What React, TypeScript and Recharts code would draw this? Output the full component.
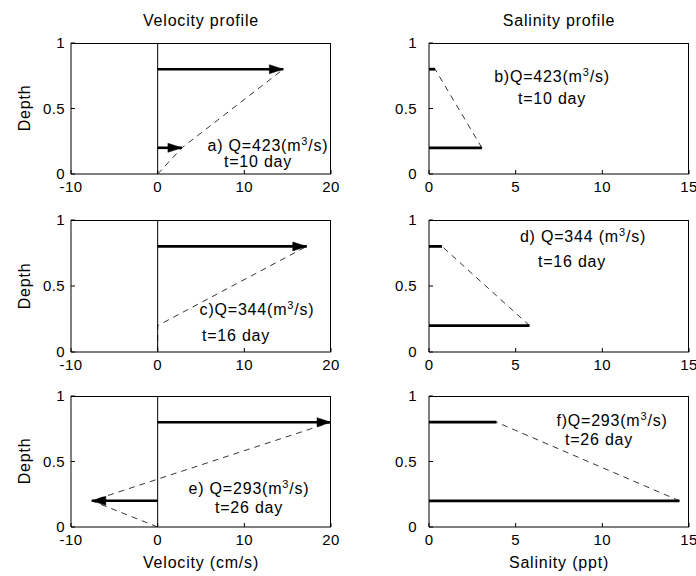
import React from 'react';
import {
  ComposedChart,
  Line,
  XAxis,
  YAxis,
  ReferenceLine,
} from 'recharts';

// layer depths (lower, upper)
const LAYER_DEPTHS = [0.2, 0.8];

// velocity (cm/s) at lower and upper layer
const VEL_A = [2.8, 14.5];
const VEL_C = [0, 17.2];
const VEL_E = [-7.6, 20];

// salinity (ppt) at lower and upper layer
const SAL_B = [3.05, 0.35];
const SAL_D = [5.8, 0.75];
const SAL_F = [14.45, 3.9];

const VEL_TICKS = [-10, 0, 10, 20];
const SAL_TICKS = [0, 5, 10, 15];
const DEPTH_TICKS = [0, 0.5, 1];

const FONT = '"Liberation Sans", Arial, Helvetica, sans-serif';

const ROWS = [
  { top: 0, height: 200, mt: 43, xh: 26 },
  { top: 200, height: 178, mt: 20, xh: 26 },
  { top: 378, height: 198, mt: 18, xh: 49 },
];

const COLS = [
  { left: 0, width: 348, ml: 31, mr: 17, tm: 10, domain: [-10, 20], ticks: VEL_TICKS },
  { left: 348, width: 348, ml: 41, mr: 7, tm: 16, domain: [0, 15], ticks: SAL_TICKS },
];

const arrowDot = (dir: number) => (props: any) => {
  const { cx, cy, index } = props;
  if (index !== 1 || dir === 0 || cx == null) return <g key={`d${index}`} />;
  const L = 14;
  const W = 4.5;
  const pts = `${cx},${cy} ${cx - dir * L},${cy - W} ${cx - dir * L},${cy + W}`;
  return <polygon key={`d${index}`} points={pts} fill="#000" stroke="#000" strokeWidth={0.5} />;
};

const velProfile = (v: number[]) => [
  { x: 0, y: 0 },
  { x: v[0], y: LAYER_DEPTHS[0] },
  { x: v[1], y: LAYER_DEPTHS[1] },
];

const salProfile = (s: number[]) => [
  { x: s[0], y: LAYER_DEPTHS[0] },
  { x: s[1], y: LAYER_DEPTHS[1] },
];

const layerSeg = (val: number, i: number) => [
  { x: 0, y: LAYER_DEPTHS[i] },
  { x: val, y: LAYER_DEPTHS[i] },
];

const tickStyle = { fill: '#000', fontSize: 15, fontFamily: FONT, letterSpacing: 0.4 };

type PanelProps = { row: number; col: number; vel?: number[]; sal?: number[] };

const Panel: React.FC<PanelProps> = ({ row, col, vel, sal }) => {
  const r = ROWS[row];
  const c = COLS[col];
  return (
    <div style={{ position: 'absolute', left: c.left, top: r.top }}>
      <ComposedChart
        width={c.width}
        height={r.height}
        margin={{ top: r.mt, right: c.mr, bottom: 0, left: c.ml }}
      >
        <XAxis
          type="number"
          dataKey="x"
          domain={c.domain}
          ticks={c.ticks}
          allowDataOverflow
          height={r.xh}
          tickSize={-4}
          tickMargin={11}
          stroke="#000"
          tick={tickStyle}
          interval={0}
        />
        <YAxis
          type="number"
          dataKey="y"
          domain={[0, 1]}
          ticks={DEPTH_TICKS}
          allowDataOverflow
          width={40}
          tickSize={-4}
          tickMargin={c.tm}
          stroke="#000"
          tick={tickStyle}
          interval={0}
        />
        {/* box: top and right frame (clipped to plot, so half the width shows) */}
        <ReferenceLine y={1} stroke="#000" strokeWidth={2} ifOverflow="hidden" />
        <ReferenceLine x={c.domain[1]} stroke="#000" strokeWidth={2} ifOverflow="hidden" />
        {vel && <ReferenceLine x={0} stroke="#000" strokeWidth={1} ifOverflow="hidden" />}
        {vel && (
          <Line
            data={velProfile(vel)}
            dataKey="y"
            type="linear"
            stroke="#000"
            strokeWidth={0.8}
            strokeDasharray="6 5"
            dot={false}
            activeDot={false}
            isAnimationActive={false}
          />
        )}
        {vel &&
          vel.map((v, i) => (
            <Line
              key={`v${i}`}
              data={layerSeg(v, i)}
              dataKey="y"
              type="linear"
              stroke="#000"
              strokeWidth={2.6}
              dot={arrowDot(Math.sign(v))}
              activeDot={false}
              isAnimationActive={false}
            />
          ))}
        {sal && (
          <Line
            data={salProfile(sal)}
            dataKey="y"
            type="linear"
            stroke="#000"
            strokeWidth={0.8}
            strokeDasharray="6 5"
            dot={false}
            activeDot={false}
            isAnimationActive={false}
          />
        )}
        {sal &&
          sal.map((s, i) => (
            <Line
              key={`s${i}`}
              data={layerSeg(s, i)}
              dataKey="y"
              type="linear"
              stroke="#000"
              strokeWidth={2.8}
              dot={false}
              activeDot={false}
              isAnimationActive={false}
            />
          ))}
      </ComposedChart>
    </div>
  );
};

const Txt: React.FC<{ x: number; y: number; rotate?: boolean; children: React.ReactNode }> = ({
  x,
  y,
  rotate,
  children,
}) => (
  <div
    style={{
      position: 'absolute',
      left: x,
      top: y,
      transform: `translate(-50%, -50%)${rotate ? ' rotate(-90deg)' : ''}`,
      whiteSpace: 'nowrap',
      fontFamily: FONT,
      fontSize: 16,
      letterSpacing: 0.8,
      lineHeight: '16px',
      color: '#000',
    }}
  >
    {children}
  </div>
);

const M3 = () => (
  <span>
    (m<sup style={{ fontSize: 11, lineHeight: 0, verticalAlign: 6 }}>3</sup>/s)
  </span>
);

export default function App() {
  return (
    <div style={{ position: 'relative', width: 696, height: 576, background: '#fff', overflow: 'hidden' }}>
      <style>{'body{margin:0}'}</style>
      <Panel row={0} col={0} vel={VEL_A} />
      <Panel row={1} col={0} vel={VEL_C} />
      <Panel row={2} col={0} vel={VEL_E} />
      <Panel row={0} col={1} sal={SAL_B} />
      <Panel row={1} col={1} sal={SAL_D} />
      <Panel row={2} col={1} sal={SAL_F} />

      <Txt x={201} y={21}>Velocity profile</Txt>
      <Txt x={559} y={21}>Salinity profile</Txt>
      <Txt x={201} y={563}>Velocity (cm/s)</Txt>
      <Txt x={559} y={563}>Salinity (ppt)</Txt>
      <Txt x={25} y={108} rotate>Depth</Txt>
      <Txt x={25} y={286} rotate>Depth</Txt>
      <Txt x={25} y={461} rotate>Depth</Txt>

      <Txt x={268} y={146}>a) Q=423<M3 /></Txt>
      <Txt x={258} y={162}>t=10 day</Txt>
      <Txt x={552} y={77}>b)Q=423<M3 /></Txt>
      <Txt x={552} y={99}>t=10 day</Txt>
      <Txt x={257} y={310}>c)Q=344<M3 /></Txt>
      <Txt x={236} y={336}>t=16 day</Txt>
      <Txt x={583} y={237}>d) Q=344 <M3 /></Txt>
      <Txt x={572} y={262}>t=16 day</Txt>
      <Txt x={249} y={489}>e) Q=293<M3 /></Txt>
      <Txt x={249} y={508}>t=26 day</Txt>
      <Txt x={612} y={421}>f)Q=293<M3 /></Txt>
      <Txt x={599} y={440}>t=26 day</Txt>
    </div>
  );
}
